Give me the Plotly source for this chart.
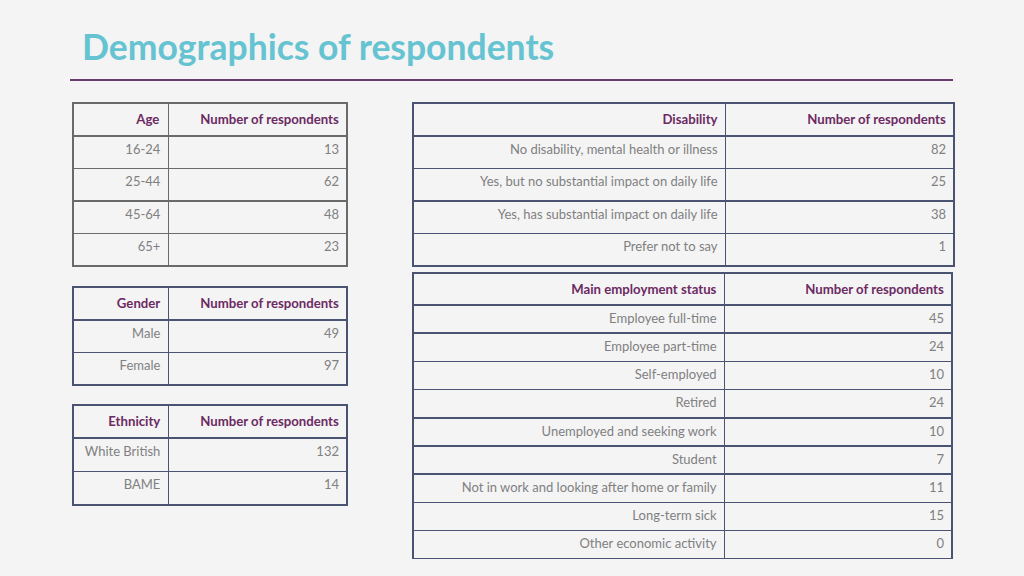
import plotly.graph_objects as go

W, H = 1024, 576

title = "Demographics of respondents"

age_groups = ["16-24", "25-44", "45-64", "65+"]
age_counts = [13, 62, 48, 23]

genders = ["Male", "Female"]
gender_counts = [49, 97]

ethnicities = ["White British", "BAME"]
ethnicity_counts = [132, 14]

disability = ["No disability, mental health or illness",
              "Yes, but no substantial impact on daily life",
              "Yes, has substantial impact on daily life",
              "Prefer not to say"]
disability_counts = [82, 25, 38, 1]

employment = ["Employee full-time", "Employee part-time", "Self-employed", "Retired",
              "Unemployed and seeking work", "Student",
              "Not in work and looking after home or family",
              "Long-term sick", "Other economic activity"]
employment_counts = [45, 24, 10, 24, 10, 7, 11, 15, 0]

BG = "#f4f4f5"
PURPLE = "#6d2a63"
GREY = "#808080"
FONT = "Lato"


def px_domain(x0, x1, y0, y1):
    # pixel box -> paper domain, with a little slack so the bottom border is not clipped
    return dict(x=[x0 / W, (x1 + 1) / W], y=[1 - (y1 + 2) / H, 1 - y0 / H])


def make_table(label_name, labels, counts, box, colw, head_h, row_h, line="#4a5472"):
    return go.Table(
        domain=px_domain(*box),
        columnwidth=colw,
        header=dict(
            values=[f"<b>{label_name}</b>", "<b>Number of respondents</b>"],
            align="right",
            height=head_h,
            fill_color=BG,
            line=dict(color=line, width=1.5),
            font=dict(family=FONT, size=13.2, color=PURPLE),
        ),
        cells=dict(
            values=[labels, counts],
            align="right",
            height=row_h,
            fill_color=BG,
            line=dict(color=line, width=1.5),
            font=dict(family=FONT, size=13, color=GREY),
        ),
    )


fig = go.Figure()
fig.add_trace(make_table("Age", age_groups, age_counts, (73, 346, 103, 266), [95, 178], 33, 32.5, line="#6a6a6a"))
fig.add_trace(make_table("Gender", genders, gender_counts, (73, 346, 287, 385), [95, 178], 33, 32.5))
fig.add_trace(make_table("Ethnicity", ethnicities, ethnicity_counts, (73, 346, 405, 505), [95, 178], 33, 33.5))
fig.add_trace(make_table("Disability", disability, disability_counts, (413, 953, 103, 266), [312, 228], 33, 32.5))
fig.add_trace(make_table("Main employment status", employment, employment_counts, (413, 951, 273, 557), [311, 227], 30, 28.2))

fig.add_shape(type="line", xref="paper", yref="paper",
              x0=70 / W, x1=953 / W, y0=1 - 80 / H, y1=1 - 80 / H,
              line=dict(color="#6b3a6e", width=2))

fig.add_annotation(text=f"<b>{title}</b>", xref="paper", yref="paper",
                   x=80 / W, y=1 - 46 / H, xanchor="left", yanchor="middle",
                   showarrow=False, font=dict(family=FONT, size=35.5, color="#66c3d1"))

fig.update_layout(
    width=W, height=H,
    margin=dict(l=0, r=0, t=0, b=0),
    paper_bgcolor=BG,
    plot_bgcolor=BG,
)

fig.write_html("out.html", config={"displayModeBar": False},
               post_script="document.body.style.margin='0';")
